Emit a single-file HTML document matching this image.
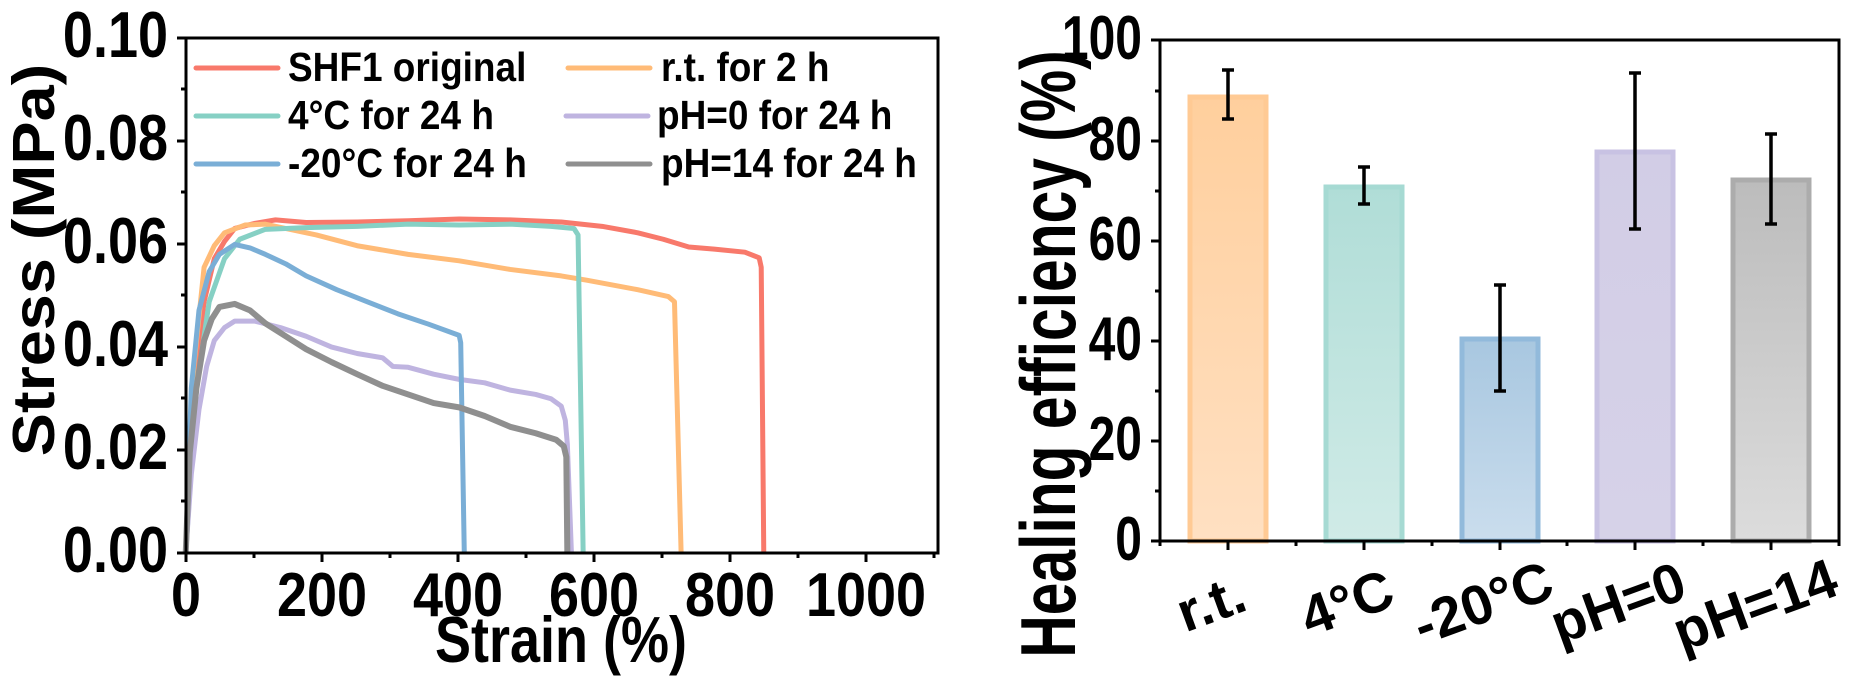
<!DOCTYPE html>
<html><head><meta charset="utf-8"><style>
html,body{margin:0;padding:0;background:#fff;}
svg{display:block;font-family:"Liberation Sans",Arial,sans-serif;font-weight:bold;}
</style></head><body>
<svg width="1859" height="676" viewBox="0 0 1859 676" xmlns="http://www.w3.org/2000/svg">
<defs>
<linearGradient id="go" x1="0" y1="0" x2="0" y2="1"><stop offset="0" stop-color="#ffcf9d"/><stop offset="1" stop-color="#ffe0c2"/></linearGradient>
<linearGradient id="gt" x1="0" y1="0" x2="0" y2="1"><stop offset="0" stop-color="#b0ddd7"/><stop offset="1" stop-color="#d0ebe7"/></linearGradient>
<linearGradient id="gb" x1="0" y1="0" x2="0" y2="1"><stop offset="0" stop-color="#a8c7e0"/><stop offset="1" stop-color="#cadded"/></linearGradient>
<linearGradient id="gl" x1="0" y1="0" x2="0" y2="1"><stop offset="0" stop-color="#d2cde6"/><stop offset="1" stop-color="#d6d2e8"/></linearGradient>
<linearGradient id="gg" x1="0" y1="0" x2="0" y2="1"><stop offset="0" stop-color="#bcbcbc"/><stop offset="1" stop-color="#dcdcdc"/></linearGradient>
</defs>

<g transform="matrix(0.5102,0,0,0.4311,0,0)" fill="none" stroke-linejoin="round" stroke-width="5">
<polyline vector-effect="non-scaling-stroke" stroke="#f8796b" points="364,1283 380,900 400,700 420,600 440,560 460,530 500,518 540,510 600,516 700,515 800,512 900,508 1000,510 1100,515 1180,525 1250,540 1300,555 1350,573 1400,578 1460,585 1488,598 1492,620 1497,1283"/>
<polyline vector-effect="non-scaling-stroke" stroke="#ffbb77" points="364,1283 380,850 400,620 420,570 440,540 480,522 520,520 620,545 700,570 800,590 900,605 1000,625 1100,640 1150,650 1250,672 1310,688 1322,700 1335,1283"/>
<polyline vector-effect="non-scaling-stroke" stroke="#86d0c4" points="364,1283 385,900 410,700 440,600 470,555 520,532 600,528 700,525 800,520 900,522 1000,520 1080,525 1125,530 1133,545 1143,1283"/>
<polyline vector-effect="non-scaling-stroke" stroke="#bfb4e0" points="364,1283 375,1100 390,950 405,850 420,790 440,760 460,745 500,745 550,760 600,780 650,805 700,820 750,830 770,850 800,852 850,868 900,880 950,888 1000,905 1050,915 1080,925 1100,942 1108,975 1112,1030 1120,1283"/>
<polyline vector-effect="non-scaling-stroke" stroke="#7aaed6" points="364,1283 375,900 390,720 410,630 430,590 460,567 490,575 520,590 560,612 600,640 660,672 720,700 780,728 840,752 900,778 903,795 910,1283"/>
<polyline vector-effect="non-scaling-stroke" stroke="#8f8f8f" stroke-width="6" points="364,1283 372,1050 385,900 400,790 415,740 430,712 460,705 490,720 520,750 560,780 600,810 650,840 700,868 750,895 800,915 850,935 900,945 950,965 1000,990 1050,1005 1090,1020 1105,1035 1110,1060 1112,1283"/>
</g>

<rect x="186" y="38" width="752" height="515" fill="none" stroke="#000" stroke-width="3"/>
<g stroke="#000" stroke-width="3">
<line x1="186" y1="553" x2="186" y2="562"/><line x1="322" y1="553" x2="322" y2="562"/><line x1="458" y1="553" x2="458" y2="562"/><line x1="594" y1="553" x2="594" y2="562"/><line x1="730" y1="553" x2="730" y2="562"/><line x1="866" y1="553" x2="866" y2="562"/>
<line x1="254" y1="553" x2="254" y2="558"/><line x1="390" y1="553" x2="390" y2="558"/><line x1="526" y1="553" x2="526" y2="558"/><line x1="662" y1="553" x2="662" y2="558"/><line x1="798" y1="553" x2="798" y2="558"/><line x1="934" y1="553" x2="934" y2="558"/>
<line x1="186" y1="553" x2="177" y2="553"/><line x1="186" y1="450" x2="177" y2="450"/><line x1="186" y1="347" x2="177" y2="347"/><line x1="186" y1="244" x2="177" y2="244"/><line x1="186" y1="141" x2="177" y2="141"/><line x1="186" y1="38" x2="177" y2="38"/>
<line x1="186" y1="501" x2="181" y2="501"/><line x1="186" y1="398" x2="181" y2="398"/><line x1="186" y1="295" x2="181" y2="295"/><line x1="186" y1="192" x2="181" y2="192"/><line x1="186" y1="89" x2="181" y2="89"/>
</g>
<g font-size="54" text-anchor="end">
<text transform="translate(168,572) scale(1,1.2)">0.00</text>
<text transform="translate(168,469) scale(1,1.2)">0.02</text>
<text transform="translate(168,366) scale(1,1.2)">0.04</text>
<text transform="translate(168,263) scale(1,1.2)">0.06</text>
<text transform="translate(168,160) scale(1,1.2)">0.08</text>
<text transform="translate(168,57) scale(1,1.2)">0.10</text>
</g>
<g font-size="54" text-anchor="middle">
<text transform="translate(186,616) scale(1,1.15)">0</text>
<text transform="translate(322,616) scale(1,1.15)">200</text>
<text transform="translate(458,616) scale(1,1.15)">400</text>
<text transform="translate(594,616) scale(1,1.15)">600</text>
<text transform="translate(730,616) scale(1,1.15)">800</text>
<text transform="translate(866,616) scale(1,1.15)">1000</text>
</g>
<text transform="translate(561,662) scale(1,1.2)" font-size="54" text-anchor="middle">Strain (%)</text>
<text transform="translate(54,260) rotate(-90) scale(1.2,1.1)" font-size="54" text-anchor="middle">Stress (MPa)</text>

<g stroke-width="5" stroke-linecap="round">
<line x1="196" y1="68" x2="278" y2="68" stroke="#f8796b"/>
<line x1="196" y1="116" x2="278" y2="116" stroke="#86d0c4"/>
<line x1="196" y1="164" x2="278" y2="164" stroke="#7aaed6"/>
<line x1="568" y1="68" x2="650" y2="68" stroke="#ffbb77"/>
<line x1="566" y1="116" x2="648" y2="116" stroke="#bfb4e0"/>
<line x1="568" y1="164" x2="650" y2="164" stroke="#8f8f8f"/>
</g>
<g font-size="37">
<text transform="translate(288,81) scale(1,1.1)">SHF1 original</text>
<text transform="translate(288,129) scale(1,1.1)">4°C for 24 h</text>
<text transform="translate(288,177) scale(1,1.1)">-20°C for 24 h</text>
<text transform="translate(661,81) scale(1,1.1)">r.t. for 2 h</text>
<text transform="translate(657,129) scale(1,1.1)">pH=0 for 24 h</text>
<text transform="translate(661,177) scale(1,1.1)">pH=14 for 24 h</text>
</g>

<g stroke-width="5">
<rect x="1190" y="97" width="76" height="444" fill="url(#go)" stroke="#ffca94"/>
<rect x="1326" y="187" width="76" height="354" fill="url(#gt)" stroke="#a6dad3"/>
<rect x="1462" y="339" width="76" height="202" fill="url(#gb)" stroke="#92badb"/>
<rect x="1597" y="152" width="76" height="389" fill="url(#gl)" stroke="#c8c2e3"/>
<rect x="1733" y="180" width="76" height="361" fill="url(#gg)" stroke="#acacac"/>
</g>
<g stroke="#000" stroke-width="3.5">
<line x1="1228" y1="70" x2="1228" y2="119"/><line x1="1222" y1="70" x2="1234" y2="70"/><line x1="1222" y1="119" x2="1234" y2="119"/>
<line x1="1364" y1="167" x2="1364" y2="204"/><line x1="1358" y1="167" x2="1370" y2="167"/><line x1="1358" y1="204" x2="1370" y2="204"/>
<line x1="1500" y1="285" x2="1500" y2="391"/><line x1="1494" y1="285" x2="1506" y2="285"/><line x1="1494" y1="391" x2="1506" y2="391"/>
<line x1="1635" y1="73" x2="1635" y2="229"/><line x1="1629" y1="73" x2="1641" y2="73"/><line x1="1629" y1="229" x2="1641" y2="229"/>
<line x1="1771" y1="134" x2="1771" y2="224"/><line x1="1765" y1="134" x2="1777" y2="134"/><line x1="1765" y1="224" x2="1777" y2="224"/>
</g>
<rect x="1160" y="40" width="679" height="501" fill="none" stroke="#000" stroke-width="3"/>
<g stroke="#000" stroke-width="3">
<line x1="1160" y1="541" x2="1151" y2="541"/><line x1="1160" y1="441" x2="1151" y2="441"/><line x1="1160" y1="341" x2="1151" y2="341"/><line x1="1160" y1="241" x2="1151" y2="241"/><line x1="1160" y1="141" x2="1151" y2="141"/><line x1="1160" y1="40" x2="1151" y2="40"/>
<line x1="1160" y1="491" x2="1155" y2="491"/><line x1="1160" y1="391" x2="1155" y2="391"/><line x1="1160" y1="291" x2="1155" y2="291"/><line x1="1160" y1="191" x2="1155" y2="191"/><line x1="1160" y1="91" x2="1155" y2="91"/>
<line x1="1228" y1="541" x2="1228" y2="550"/><line x1="1364" y1="541" x2="1364" y2="550"/><line x1="1500" y1="541" x2="1500" y2="550"/><line x1="1635" y1="541" x2="1635" y2="550"/><line x1="1771" y1="541" x2="1771" y2="550"/>
<line x1="1160" y1="541" x2="1160" y2="546"/><line x1="1296" y1="541" x2="1296" y2="546"/><line x1="1432" y1="541" x2="1432" y2="546"/><line x1="1567" y1="541" x2="1567" y2="546"/><line x1="1703" y1="541" x2="1703" y2="546"/><line x1="1839" y1="541" x2="1839" y2="546"/>
</g>
<g font-size="48" text-anchor="end">
<text transform="translate(1142,560) scale(1,1.3)">0</text>
<text transform="translate(1142,460) scale(1,1.3)">20</text>
<text transform="translate(1142,360) scale(1,1.3)">40</text>
<text transform="translate(1142,260) scale(1,1.3)">60</text>
<text transform="translate(1142,160) scale(1,1.3)">80</text>
<text transform="translate(1142,59) scale(1,1.3)">100</text>
</g>
<text transform="translate(1075,354) rotate(-90) scale(1.13,1.5)" font-size="52" text-anchor="middle">Healing efficiency (%)</text>
<g font-size="56" text-anchor="middle">
<text transform="translate(1211,603) rotate(-20)" dy="19">r.t.</text>
<text transform="translate(1347,603) rotate(-20)" dy="19">4°C</text>
<text transform="translate(1483,603) rotate(-20)" dy="19">-20°C</text>
<text transform="translate(1618,603) rotate(-20)" dy="19">pH=0</text>
<text transform="translate(1755,605) rotate(-20)" dy="19">pH=14</text>
</g>
</svg>
</body></html>
